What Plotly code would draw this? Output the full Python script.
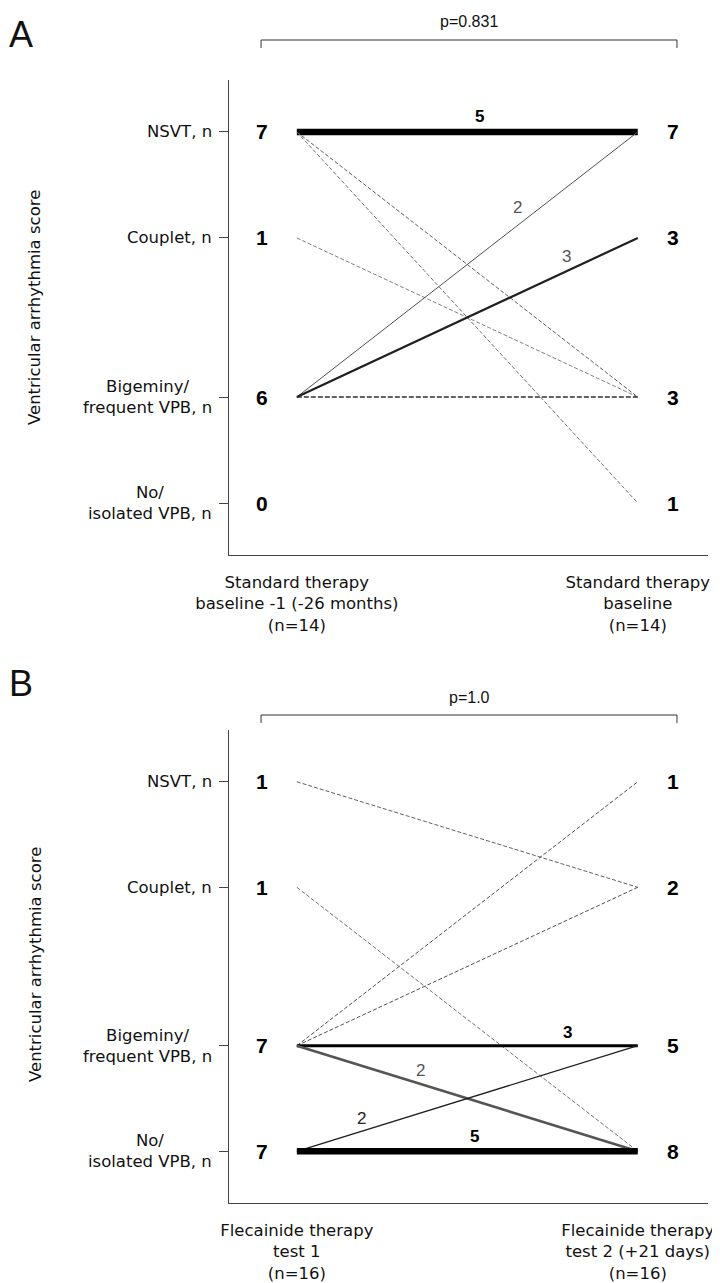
import plotly.graph_objects as go

# ---------------- data ----------------
categories = ["NSVT, n", "Couplet, n", "Bigeminy/<br>frequent VPB, n", "No/<br>isolated VPB, n"]
level_pos = [3.5, 2.5, 1.0, 0.0]          # axis scale position of each category

# Panel A
timepoints_A = ["Standard therapy<br>baseline -1 (-26 months)<br>(n=14)",
                "Standard therapy<br>baseline<br>(n=14)"]
counts_A_left = [7, 1, 6, 0]
counts_A_right = [7, 3, 3, 1]
trans_A_from = [0, 0, 0, 1, 2, 2, 2]
trans_A_to = [0, 3, 2, 2, 0, 1, 2]
trans_A_n = [5, 1, 1, 1, 2, 3, 1]
p_A = "p=0.831"

# Panel B
timepoints_B = ["Flecainide therapy<br>test 1<br>(n=16)",
                "Flecainide therapy<br>test 2 (+21 days)<br>(n=16)"]
counts_B_left = [1, 1, 7, 7]
counts_B_right = [1, 2, 5, 8]
trans_B_from = [0, 1, 2, 2, 2, 2, 3, 3]
trans_B_to = [1, 3, 0, 1, 2, 3, 2, 3]
trans_B_n = [1, 1, 1, 1, 3, 2, 2, 5]
p_B = "p=1.0"

# ---------------- styles ----------------
# (width, color, dash, label_t, label_xshift, label_yshift, label_color, label_bold)
style_A = [
    (6.5, "#000000", "solid", 0.537, 0, 15, "#000000", True),
    (1.0, "#707070", "4px,2px", None, 0, 0, None, False),
    (1.0, "#606060", "4px,2px", None, 0, 0, None, False),
    (1.0, "#808080", "4px,2px", None, 0, 0, None, False),
    (1.0, "#505050", "solid", 0.674, -9, 11, "#555555", False),
    (2.2, "#202020", "solid", 0.805, -5, 12, "#555555", False),
    (1.4, "#303030", "5px,2px", None, 0, 0, None, False),
]
style_B = [
    (1.0, "#606060", "4px,2px", None, 0, 0, None, False),
    (1.0, "#707070", "4px,2px", None, 0, 0, None, False),
    (1.0, "#505050", "4px,2px", None, 0, 0, None, False),
    (1.0, "#505050", "4px,2px", None, 0, 0, None, False),
    (3.0, "#000000", "solid", 0.795, 0, 13, "#000000", True),
    (2.6, "#555555", "solid", 0.35, 4, 12, "#555555", False),
    (1.3, "#202020", "solid", 0.20, -4, 12, "#222222", False),
    (6.5, "#000000", "solid", 0.52, 0, 15, "#000000", True),
]

W, H = 720, 1283
OFF = 8  # page body margin
FONT = "DejaVu Sans"
NUMFONT = "Liberation Sans"


def px(x):
    return (x - OFF) / W


def py(y):
    return 1 - (y - OFF) / H


x_dom = [px(229), px(708)]
yA_dom = [py(555), py(80)]
yB_dom = [py(1203), py(730)]
x_range = [-0.199, 1.206]
y_range = [-0.49, 3.99]

fig = go.Figure()
annotations = []
shapes = []


def add_panel(xa, ya, frm, to, ns, styles, cl, cr):
    for f, t, n, st in zip(frm, to, ns, styles):
        w, col, dash, lt, lxs, lys, lcol, lbold = st
        y0, y1 = level_pos[f], level_pos[t]
        fig.add_trace(go.Scatter(
            x=[0, 1], y=[y0, y1], mode="lines", xaxis=xa, yaxis=ya,
            line=dict(width=w, color=col, dash=dash),
            hoverinfo="skip", showlegend=False))
        if lt is not None:
            annotations.append(dict(
                x=lt, y=y0 + lt * (y1 - y0), xref=xa, yref=ya,
                text=f"<b>{n}</b>" if lbold else str(n), showarrow=False,
                xshift=lxs, yshift=lys,
                font=dict(family=NUMFONT, size=17, color=lcol)))
    for i, pos in enumerate(level_pos):
        annotations.append(dict(x=0, y=pos, xref=xa, yref=ya, text=f"<b>{cl[i]}</b>",
                                showarrow=False, xshift=-35,
                                font=dict(family=NUMFONT, size=21, color="#000")))
        annotations.append(dict(x=1, y=pos, xref=xa, yref=ya, text=f"<b>{cr[i]}</b>",
                                showarrow=False, xshift=35,
                                font=dict(family=NUMFONT, size=21, color="#000")))
        annotations.append(dict(x=x_dom[0], y=pos, xref="paper", yref=ya,
                                text=categories[i], showarrow=False,
                                xanchor="right", align="center", xshift=-15,
                                font=dict(family=FONT, size=16.5, color="#111")))


add_panel("x", "y", trans_A_from, trans_A_to, trans_A_n, style_A, counts_A_left, counts_A_right)
add_panel("x2", "y2", trans_B_from, trans_B_to, trans_B_n, style_B, counts_B_left, counts_B_right)


def bracket(xa, y_line_px, p_text, label_px):
    yl = py(y_line_px)
    yt = py(y_line_px + 8)
    shapes.append(dict(type="path", xref=xa, yref="paper",
                       path=f"M -0.105,{yt} L -0.105,{yl} L 1.115,{yl} L 1.115,{yt}",
                       line=dict(color="#333", width=1)))
    annotations.append(dict(x=0.505, y=py(label_px), xref=xa, yref="paper",
                            text=p_text, showarrow=False,
                            xanchor="center", yanchor="middle",
                            font=dict(family=NUMFONT, size=16, color="#111")))


bracket("x", 40, p_A, 22)
bracket("x2", 715, p_B, 697)

# Panel letters
annotations.append(dict(x=px(21), y=py(35), xref="paper", yref="paper", text="A",
                        xanchor="center", yanchor="middle", showarrow=False,
                        font=dict(family=NUMFONT, size=36, color="#111")))
annotations.append(dict(x=px(21), y=py(683), xref="paper", yref="paper", text="B",
                        xanchor="center", yanchor="middle", showarrow=False,
                        font=dict(family=NUMFONT, size=36, color="#111")))
# rotated axis titles
for yc in (308, 965):
    annotations.append(dict(x=px(35), y=py(yc), xref="paper", yref="paper",
                            text="Ventricular arrhythmia score", textangle=-90,
                            xanchor="center", yanchor="middle", showarrow=False,
                            font=dict(family=FONT, size=16.5, color="#111")))

xcommon = dict(domain=x_dom, range=x_range, showgrid=False, zeroline=False,
               showline=True, linecolor="#444", linewidth=1, ticks="",
               tickvals=[0, 1], ticklabelstandoff=12, automargin=False,
               tickfont=dict(family=FONT, size=16.5, color="#111"), fixedrange=True)
ycommon = dict(range=y_range, showgrid=False, zeroline=False, showline=True,
               linecolor="#444", linewidth=1, ticks="outside", ticklen=9,
               tickcolor="#444", tickvals=level_pos, showticklabels=False,
               automargin=False, fixedrange=True)

fig.update_layout(
    width=W, height=H, margin=dict(l=0, r=0, t=0, b=0, autoexpand=False),
    paper_bgcolor="white", plot_bgcolor="white",
    xaxis=dict(**xcommon, anchor="y", ticktext=timepoints_A),
    yaxis=dict(**ycommon, domain=yA_dom, anchor="x"),
    xaxis2=dict(**xcommon, anchor="y2", ticktext=timepoints_B),
    yaxis2=dict(**ycommon, domain=yB_dom, anchor="x2"),
    annotations=annotations, shapes=shapes, showlegend=False,
)

fig.write_html("out.html")
